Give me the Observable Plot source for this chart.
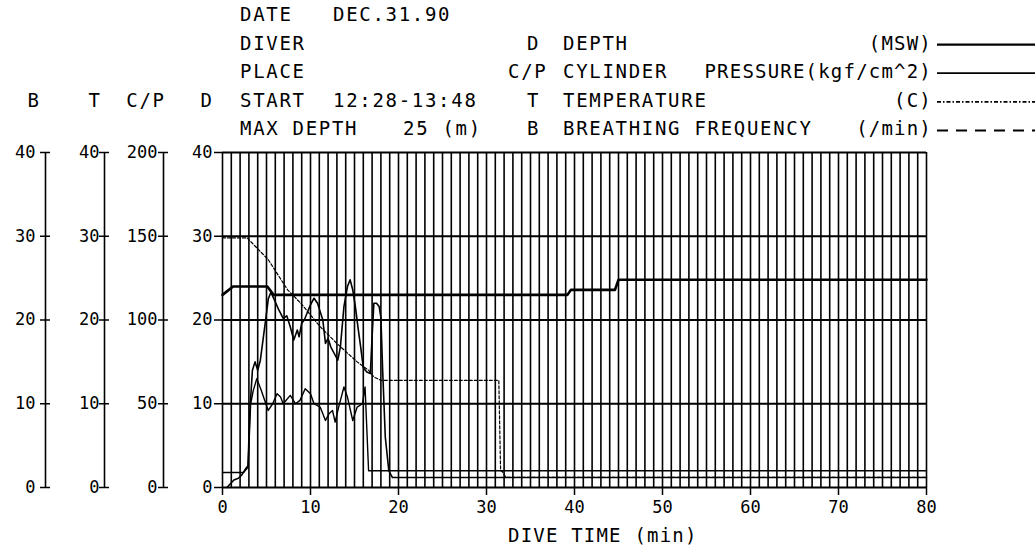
<!DOCTYPE html>
<html><head><meta charset="utf-8">
<script src="https://cdn.jsdelivr.net/npm/d3@7"></script>
<script src="https://cdn.jsdelivr.net/npm/@observablehq/plot@0.6"></script>
<style>
body{margin:0;background:#fff;}
#wrap{position:relative;width:1035px;height:546px;overflow:hidden;font-family:'DejaVu Sans Mono',monospace;color:#000;}
#head{position:absolute;left:0;top:0;}
#chart{position:absolute;left:0;top:144px;}
#cap{position:absolute;left:508px;top:524px;font-size:19px;letter-spacing:1.2px;line-height:22px;white-space:pre;}
</style></head>
<body><div id="wrap"><svg id="head" width="1035" height="144"></svg><div id="chart"></div><div id="cap"></div></div>
<script>
// ---- data ----
const headerLabels = ["DATE", "DIVER", "PLACE", "START", "MAX DEPTH"];
const headerValues = ["DEC.31.90", "", "", "12:28-13:48", "25 (m)"];
const axisLetters = ["B", "T", "C/P", "D"];
const legendKeys = ["D", "C/P", "T", "B"];
const legendNames = ["DEPTH", "CYLINDER", "TEMPERATURE", "BREATHING FREQUENCY"];
const legendUnits = ["(MSW)", "PRESSURE(kgf/cm^2)", "(C)", "(/min)"];
const xTicks = [0, 10, 20, 30, 40, 50, 60, 70, 80];
const yTicks = [0, 10, 20, 30, 40];       // D, T, B scales
const cpTicks = [0, 50, 100, 150, 200];   // C/P scale
const xLabel = "DIVE TIME (min)";

// [minute, value]
const temperatureC = [[0,23.0],[1.2,24.0],[5.1,24.0],[5.8,23.0],[39.2,23.0],[39.6,23.6],[44.6,23.6],[45.0,24.8],[80,24.8]];
const cylinderKgf = [[0,149],[2.8,149],[5.2,136],[7.4,118],[8.9,110],[11.1,96],[13.0,86],[15.3,75],[16.6,70],[17.2,66],[18.0,64],[31.4,64],[31.6,10],[31.8,9.5],[32.2,6],[80,6]];
const depthM = [[0.5,0],[1.3,0.9],[1.8,1.1],[2.2,1.5],[2.6,2.2],[2.9,2.6],[3.1,9],[3.4,14],[3.7,15],[4.0,14],[4.3,15.2],[4.6,17.6],[4.9,20],[5.2,22.5],[5.5,23.3],[5.9,22.4],[6.4,21.2],[6.9,20.2],[7.3,20.5],[7.7,19.2],[8.1,17.6],[8.5,18.8],[8.7,18],[9.0,19.6],[9.3,20],[9.6,20.8],[10.0,21.8],[10.4,22.6],[10.8,22],[11.1,21],[11.4,20],[11.7,17.2],[12.0,17.8],[12.3,16.8],[12.7,16],[13.1,15.2],[13.4,16.8],[13.8,21.6],[14.2,24],[14.5,24.8],[14.8,23.6],[15.1,21.6],[15.4,19.1],[15.7,16.8],[16.0,14.3],[16.4,13.8],[16.8,13.6],[17.0,18],[17.2,22],[17.5,22],[17.8,21.6],[18.0,20.3],[18.2,14],[18.5,6],[18.9,2],[19.3,1.2],[80,1.2]];
const breathingPerMin = [[0,1.8],[2.4,1.8],[2.9,2.4],[3.2,10],[3.5,11.6],[3.9,13],[4.4,11.6],[4.8,10.4],[5.2,9.2],[5.7,10],[6.2,11.2],[6.6,10.8],[6.9,10],[7.7,11],[8.3,10],[8.8,10.4],[9.4,11.8],[10.0,11.2],[10.4,10],[11.1,9.6],[11.7,8],[12.1,8.8],[12.5,9.2],[12.8,7.8],[13.2,9.6],[13.8,12],[14.2,10.8],[14.8,8],[15.3,9.6],[15.9,10],[16.2,12],[16.6,2],[80,2]];

const gridMinutes = d3.range(0, 81);
const cpRatio = cpTicks[cpTicks.length - 1] / yTicks[yTicks.length - 1];

// ---- header (title block + legend) ----
const head = d3.select("#head")
  .style("font-family", "'DejaVu Sans Mono', monospace")
  .style("font-size", "19px")
  .style("letter-spacing", "1.7px");
const rowY = i => 21 + i * 28.6;
headerLabels.forEach((s, i) => head.append("text").attr("x", 240).attr("y", rowY(i)).text(s));
headerValues.forEach((s, i) => head.append("text").attr("x", i === 4 ? 403 : 333).attr("y", rowY(i)).text(s));
const letterX = [34, 95, 146, 207];
axisLetters.forEach((s, i) => head.append("text").attr("x", letterX[i]).attr("y", rowY(3)).attr("text-anchor", "middle").text(s));
const dashes = [null, null, "4,2,1.5,2", "11,8"];
const widths = [2.2, 1.8, 1.8, 2];
legendKeys.forEach((k, i) => {
  const y = rowY(i + 1);
  head.append("text").attr("x", k === "C/P" ? 508 : 527).attr("y", y).text(k);
  head.append("text").attr("x", 563).attr("y", y).text(legendNames[i]);
  head.append("text").attr("x", 932).attr("y", y).attr("text-anchor", "end").style("letter-spacing", "1.2px").text(legendUnits[i]);
  head.append("line").attr("x1", 937).attr("x2", 1035).attr("y1", y - 5).attr("y2", y - 5)
    .attr("stroke", "#000").attr("stroke-width", widths[i]).attr("stroke-dasharray", dashes[i]);
});
d3.select("#cap").text(xLabel);

// ---- chart ----
const leftAxis = (shift, pad, fmt) => [
  Plot.ruleX([0], {y1: 0, y2: 40, dx: shift, stroke: "#000", strokeWidth: 1.6}),
  Plot.axisY({anchor: "left", ticks: yTicks, tickSize: 5, tickPadding: pad + 5, dx: shift, label: null, tickFormat: fmt, strokeWidth: 1.5}),
  Plot.axisY({anchor: "left", ticks: yTicks, tickSize: 5, dx: shift + 5, label: null, tickFormat: () => "", strokeWidth: 1.5})
];
const chart = Plot.plot({
  width: 1035, height: 402,
  marginLeft: 222, marginRight: 109, marginTop: 8, marginBottom: 59,
  x: {domain: [0, 80]},
  y: {domain: [0, 40]},
  style: {fontFamily: "'DejaVu Sans Mono', monospace", fontSize: "17px", color: "#000", background: "#fff", overflow: "visible"},
  marks: [
    Plot.ruleX(gridMinutes, {y1: 0, y2: 40, stroke: "#000", strokeWidth: 1.6}),
    Plot.ruleY(yTicks, {x1: 0, x2: 80, stroke: "#000", strokeWidth: 2}),
    ...leftAxis(-177, 0, d => d),
    ...leftAxis(-118, -5, d => d),
    ...leftAxis(-59, -4, d => cpTicks[yTicks.indexOf(d)]),
    Plot.axisY({anchor: "left", ticks: yTicks, tickSize: 8, tickPadding: 2, label: null, strokeWidth: 1.5}),
    Plot.axisX({ticks: xTicks, tickSize: 8, tickPadding: 5, label: null, strokeWidth: 1.5}),
    Plot.line(temperatureC, {x: d => d[0], y: d => d[1], stroke: "#000", strokeWidth: 2.6}),
    Plot.line(cylinderKgf, {x: d => d[0], y: d => d[1] / cpRatio, stroke: "#000", strokeWidth: 1.2, strokeDasharray: "3,2"}),
    Plot.line(depthM, {x: d => d[0], y: d => d[1], stroke: "#000", strokeWidth: 1.6}),
    Plot.line(breathingPerMin, {x: d => d[0], y: d => d[1], stroke: "#000", strokeWidth: 1.4})
  ]
});
document.getElementById("chart").appendChild(chart);
</script>
</body></html>
